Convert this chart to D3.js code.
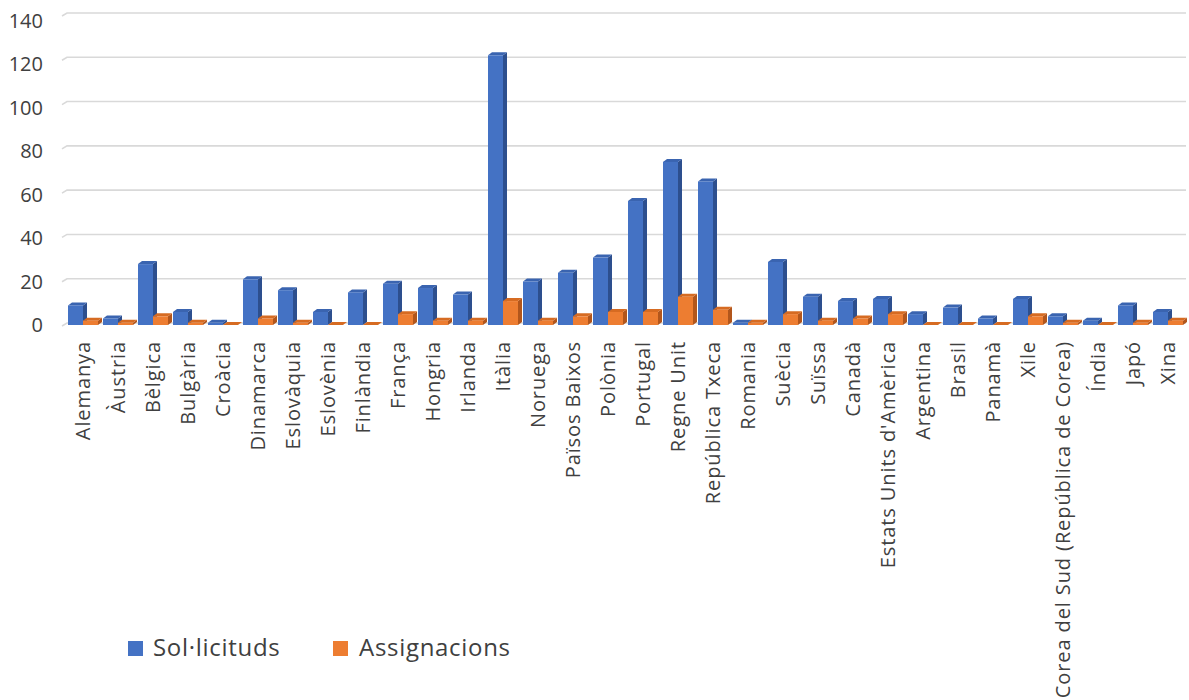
<!DOCTYPE html>
<html><head><meta charset="utf-8">
<script src="https://cdn.jsdelivr.net/npm/d3@7"></script>
<style>body{margin:0;background:#fff;}svg{display:block;}</style>
</head><body>
<script>
const categories = ["Alemanya","Àustria","Bèlgica","Bulgària","Croàcia","Dinamarca","Eslovàquia","Eslovènia","Finlàndia","França","Hongria","Irlanda","Itàlia","Noruega","Països Baixos","Polònia","Portugal","Regne Unit","República Txeca","Romania","Suècia","Suïssa","Canadà","Estats Units d'Amèrica","Argentina","Brasil","Panamà","Xile","Corea del Sud (República de Corea)","Índia","Japó","Xina"];
const solicituds = [9,3,28,6,1,21,16,6,15,19,17,14,124,20,24,31,57,75,66,1,29,13,11,12,5,8,3,12,4,2,9,6];
const assignacions = [2,1,4,1,0,3,1,0,0,5,2,2,11,2,4,6,6,13,7,1,5,2,3,5,0,0,0,4,1,0,1,2];
const seriesNames = ["Sol·licituds","Assignacions"];
const yTicks = [0,20,40,60,80,100,120,140];

const W = 1189, H = 700;
const svg = d3.select("body").append("svg").attr("width", W).attr("height", H);
const font = "'Open Sans', sans-serif";

const x = d3.scaleBand().domain(categories).range([65.5, 1185.5]).paddingInner(0.143).paddingOuter(0.0715);
const xs = d3.scaleBand().domain(seriesNames).range([0, x.bandwidth()]);
const yFront = d3.scaleLinear().domain([0,140]).range([325, 20.5]);
const yBack = d3.scaleLinear().domain([0,140]).range([323, 13]);

// gridlines (back wall)
svg.append("g").selectAll("path").data(yTicks).join("path")
  .attr("d", d => `M62,${yBack(d)+3}L67,${yBack(d)}L1186,${yBack(d)}`)
  .attr("fill","none").attr("stroke","#d9d9d9").attr("stroke-width",1.6);

// y labels
svg.append("g").selectAll("text").data(yTicks).join("text")
  .attr("x", 43).attr("y", d => yFront(d)).attr("dy","0.35em")
  .attr("text-anchor","end").attr("font-family",font).attr("font-size",20)
  .attr("fill","#404040").text(d => d);

const colors = {
  "Sol·licituds": {front:"#4472C4", side:"#2D4F8E", top:"#3A64B0"},
  "Assignacions": {front:"#ED7D31", side:"#B2561C", top:"#D66B22"}
};
const dx = 4, dy = 3;
const data = categories.map((c,i) => ({c, vals:[{s:seriesNames[0], v:solicituds[i]},{s:seriesNames[1], v:assignacions[i]}]}));

const bars = svg.append("g");
data.forEach(d => {
  d.vals.forEach(b => {
    const x0 = x(d.c) + xs(b.s), bw = xs.bandwidth();
    const yt = yFront(b.v), y0 = yFront(0);
    const col = colors[b.s];
    const g = bars.append("g");
    g.append("path").attr("d", `M${x0+bw},${yt}L${x0+bw+dx},${yt-dy}L${x0+bw+dx},${y0-dy}L${x0+bw},${y0}Z`).attr("fill", col.side);
    g.append("path").attr("d", `M${x0},${yt}L${x0+dx},${yt-dy}L${x0+bw+dx},${yt-dy}L${x0+bw},${yt}Z`).attr("fill", col.top);
    g.append("rect").attr("x", x0).attr("y", yt).attr("width", bw).attr("height", Math.max(0, y0-yt)).attr("fill", col.front);
  });
});

// category labels
svg.append("g").selectAll("text").data(categories).join("text")
  .attr("transform", d => `translate(${x(d)+x.bandwidth()/2},341) rotate(-90)`)
  .attr("dy","0.35em").attr("text-anchor","end").attr("letter-spacing","0.9px")
  .attr("font-family",font).attr("font-size",20).attr("fill","#404040").text(d => d);

// legend
const leg = svg.append("g");
const legItems = [{s:seriesNames[0], x:128, tx:153},{s:seriesNames[1], x:333, tx:359}];
legItems.forEach(l => {
  leg.append("rect").attr("x", l.x).attr("y", 641).attr("width", 15).attr("height", 15).attr("fill", colors[l.s].front);
  leg.append("text").attr("x", l.tx).attr("y", 648).attr("dy","0.35em").attr("letter-spacing","0.7px")
    .attr("font-family",font).attr("font-size",24).attr("fill","#404040").text(l.s);
});
</script>
</body></html>
